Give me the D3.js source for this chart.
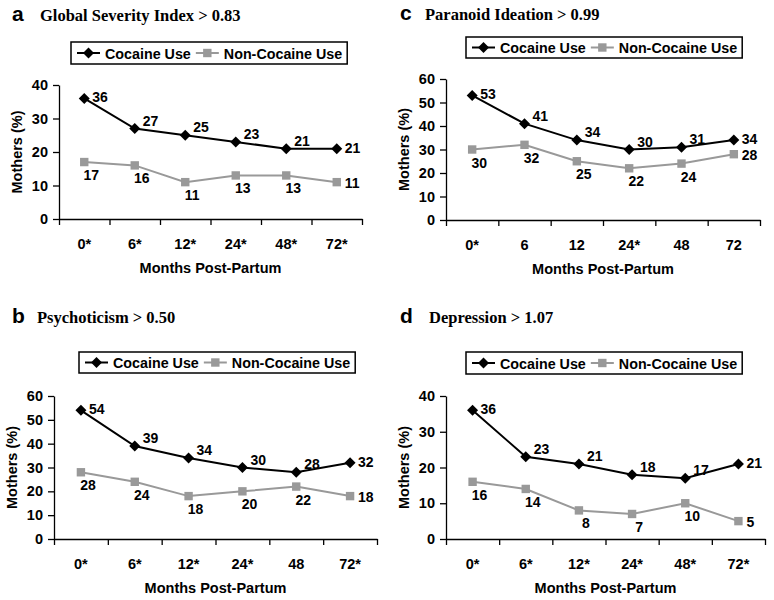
<!DOCTYPE html>
<html>
<head>
<meta charset="utf-8">
<script src="https://cdn.jsdelivr.net/npm/d3@7"></script>
<style>
  body { margin: 0; background: #fff; }
  svg { display: block; }
</style>
</head>
<body>
<svg id="chart"></svg>
<script>
// Series names (legend)
const seriesNames = ["Cocaine Use", "Non-Cocaine Use"];

// Month tick labels for each panel (asterisk = significant difference)
const monthsA = ["0*", "6*", "12*", "24*", "48*", "72*"];
const monthsB = ["0*", "6*", "12*", "24*", "48", "72*"];
const monthsC = ["0*", "6", "12", "24*", "48", "72"];
const monthsD = ["0*", "6*", "12*", "24*", "48*", "72*"];

// Percent of mothers above cut-off
const cocaineA = [36, 27, 25, 23, 21, 21];
const nonCocaineA = [17, 16, 11, 13, 13, 11];
const cocaineB = [54, 39, 34, 30, 28, 32];
const nonCocaineB = [28, 24, 18, 20, 22, 18];
const cocaineC = [53, 41, 34, 30, 31, 34];
const nonCocaineC = [30, 32, 25, 22, 24, 28];
const cocaineD = [36, 23, 21, 18, 17, 21];
const nonCocaineD = [16, 14, 8, 7, 10, 5];

const width = 774, height = 600;
const sans = "'Liberation Sans', Arial, sans-serif";
const serif = "'Liberation Serif', 'Times New Roman', serif";
const black = "#000", gray = "#999";

// panel layout
const panels = [
  {letter: "a", title: "Global Severity Index > 0.83", months: monthsA, cocaine: cocaineA, non: nonCocaineA, yMax: 40,
   left: 59, right: 362, top: 85, bottom: 219, legX: 71, legY: 42, legH: 22, titleY: 21, letterX: 12, titleX: 40},
  {letter: "c", title: "Paranoid Ideation > 0.99", months: monthsC, cocaine: cocaineC, non: nonCocaineC, yMax: 60,
   left: 446, right: 760, top: 79, bottom: 220, legX: 466, legY: 37, legH: 21, titleY: 20, letterX: 400, titleX: 425},
  {letter: "b", title: "Psychoticism > 0.50", months: monthsB, cocaine: cocaineB, non: nonCocaineB, yMax: 60,
   left: 54, right: 377, top: 396, bottom: 539, legX: 79, legY: 352, legH: 21, titleY: 323, letterX: 12, titleX: 37},
  {letter: "d", title: "Depression > 1.07", months: monthsD, cocaine: cocaineD, non: nonCocaineD, yMax: 40,
   left: 446, right: 765, top: 396, bottom: 539, legX: 466, legY: 352, legH: 22, titleY: 323, letterX: 400, titleX: 429}
];

const svg = d3.select("#chart")
    .attr("width", width)
    .attr("height", height)
    .attr("viewBox", [0, 0, width, height]);

const diamond = s => `M0,${-s}L${s},0L0,${s}L${-s},0Z`;

function drawMarker(g, type, x, y) {
  if (type === 0) {
    g.append("path").attr("d", diamond(5.5))
        .attr("transform", `translate(${x},${y})`).attr("fill", black);
  } else {
    g.append("rect").attr("x", x - 4.2).attr("y", y - 4.2)
        .attr("width", 8.4).attr("height", 8.4).attr("fill", gray);
  }
}

panels.forEach(p => {
  const g = svg.append("g");

  // panel letter and title
  g.append("text")
      .attr("x", p.letterX).attr("y", p.titleY)
      .attr("font-family", sans).attr("font-weight", "bold").attr("font-size", 21)
      .text(p.letter);
  g.append("text")
      .attr("x", p.titleX).attr("y", p.titleY)
      .attr("font-family", serif).attr("font-weight", "bold").attr("font-size", 16.5)
      .text(p.title);

  const x = d3.scaleBand().domain(p.months).range([p.left, p.right]);
  const xEdge = d3.scaleLinear().domain([0, p.months.length]).range([p.left, p.right]);
  const y = d3.scaleLinear().domain([0, p.yMax]).range([p.bottom, p.top]);

  // y axis
  const yAxis = g.append("g")
      .attr("transform", `translate(${p.left},0)`)
      .call(d3.axisLeft(y).ticks(p.yMax / 10).tickSize(6).tickSizeOuter(0).tickPadding(5));
  yAxis.selectAll("text")
      .attr("font-family", sans).attr("font-weight", "bold").attr("font-size", 14.5).attr("fill", black);
  yAxis.selectAll("line, path").attr("stroke", black).attr("stroke-width", 1.3);

  // x axis: ticks at band edges
  const xAxis = g.append("g")
      .attr("transform", `translate(0,${p.bottom})`)
      .call(d3.axisBottom(xEdge).tickValues(d3.range(p.months.length + 1))
          .tickFormat("").tickSize(6).tickSizeOuter(0));
  xAxis.selectAll("line, path").attr("stroke", black).attr("stroke-width", 1.3);

  // x tick labels
  g.append("g").selectAll("text")
    .data(p.months)
    .join("text")
      .attr("x", d => x(d) + x.bandwidth() / 2)
      .attr("y", p.bottom + 30)
      .attr("text-anchor", "middle")
      .attr("font-family", sans).attr("font-weight", "bold").attr("font-size", 14.5)
      .text(d => d);

  // axis titles
  g.append("text")
      .attr("x", (p.left + p.right) / 2).attr("y", p.bottom + 54)
      .attr("text-anchor", "middle")
      .attr("font-family", sans).attr("font-weight", "bold").attr("font-size", 14.5)
      .text("Months Post-Partum");
  g.append("text")
      .attr("transform", `translate(${p.left - 37},${(p.top + p.bottom) / 2}) rotate(-90)`)
      .attr("text-anchor", "middle")
      .attr("font-family", sans).attr("font-weight", "bold").attr("font-size", 14.5)
      .text("Mothers (%)");

  // lines and markers
  const cx = i => x(p.months[i]) + x.bandwidth() / 2;
  const line = d3.line().x((d, i) => cx(i)).y(d => y(d));
  [p.cocaine, p.non].forEach((vals, s) => {
    g.append("path")
        .attr("d", line(vals))
        .attr("fill", "none")
        .attr("stroke", s === 0 ? black : gray)
        .attr("stroke-width", 2);
    vals.forEach((v, i) => drawMarker(g, s, cx(i), y(v)));
  });

  // value labels
  const last = p.months.length - 1;
  const lab = g.append("g")
      .attr("font-family", sans).attr("font-weight", "bold").attr("font-size", 14);
  p.cocaine.forEach((v, i) => {
    const edge = i === 0 || i === last;
    lab.append("text")
        .attr("x", cx(i) + 8)
        .attr("y", y(v) + (edge ? 4 : -3))
        .text(v);
  });
  p.non.forEach((v, i) => {
    const isLast = i === last;
    lab.append("text")
        .attr("x", isLast ? cx(i) + 8 : cx(i) + 7)
        .attr("y", y(v) + (isLast ? 6 : 18))
        .attr("text-anchor", isLast ? "start" : "middle")
        .text(v);
  });

  // legend
  const leg = g.append("g");
  const box = leg.append("rect")
      .attr("x", p.legX).attr("y", p.legY).attr("height", p.legH)
      .attr("fill", "#fff").attr("stroke", black).attr("stroke-width", 1.5);
  let lx = p.legX + 6;
  const ly = p.legY + p.legH / 2;
  seriesNames.forEach((name, s) => {
    leg.append("line")
        .attr("x1", lx).attr("x2", lx + 23).attr("y1", ly).attr("y2", ly)
        .attr("stroke", s === 0 ? black : gray).attr("stroke-width", 2);
    drawMarker(leg, s, lx + 11.5, ly);
    const t = leg.append("text")
        .attr("x", lx + 28).attr("y", ly + 5.5)
        .attr("font-family", sans).attr("font-weight", "bold").attr("font-size", 14.3)
        .text(name);
    lx = lx + 28 + t.node().getComputedTextLength() + 5;
  });
  box.attr("width", lx - p.legX);
});
</script>
</body>
</html>
